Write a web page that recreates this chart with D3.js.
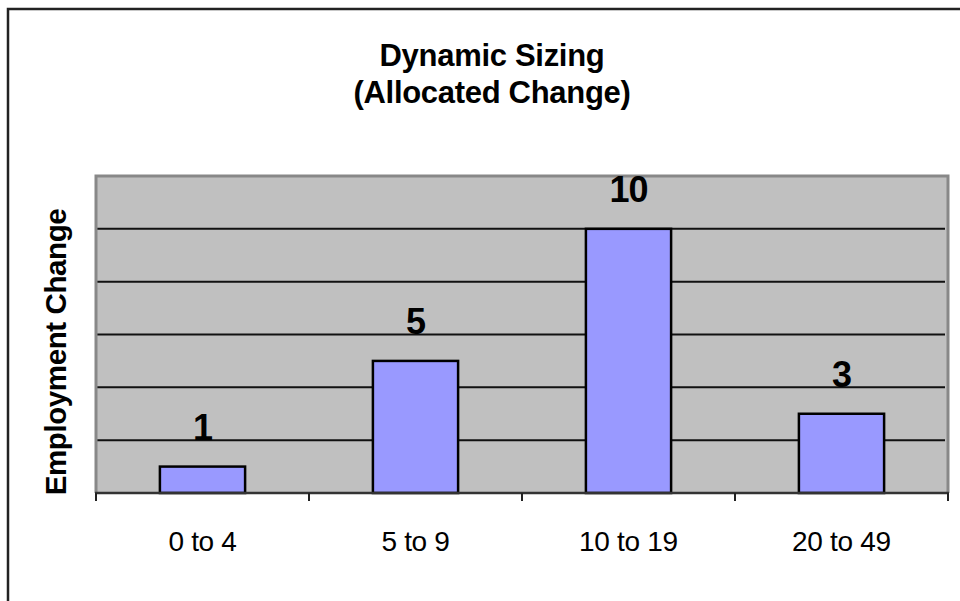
<!DOCTYPE html>
<html>
<head>
<meta charset="utf-8">
<script src="https://cdn.jsdelivr.net/npm/d3@7"></script>
<style>
  html, body { margin: 0; padding: 0; background: #fff; }
  svg { display: block; }
  text { font-family: Arial, "Liberation Sans", sans-serif; fill: #000; }
</style>
</head>
<body>
<svg id="chart" width="960" height="601"></svg>
<script>
// Employment change allocated to each firm-size class
const categories = ["0 to 4", "5 to 9", "10 to 19", "20 to 49"];
const values = [1, 5, 10, 3];
const gridValues = [2, 4, 6, 8, 10];
const titleLines = ["Dynamic Sizing", "(Allocated Change)"];
const yTitle = "Employment Change";

const svg = d3.select("#chart");
const plot = { left: 96, right: 948, top: 176, bottom: 493 };

// outer chart frame (extends past the right and bottom edges)
svg.append("rect")
  .attr("x", 8).attr("y", 9)
  .attr("width", 1000).attr("height", 1000)
  .attr("fill", "#fff")
  .attr("stroke", "#222").attr("stroke-width", 2.5);

const x = d3.scaleBand()
  .domain(categories)
  .range([plot.left, plot.right])
  .paddingInner(0.6)
  .paddingOuter(0.3);

const xEdge = d3.scaleLinear()
  .domain([0, categories.length])
  .range([plot.left, plot.right]);

const y = d3.scaleLinear()
  .domain([0, 12])
  .range([plot.bottom, plot.top]);

// plot area background
svg.append("rect")
  .attr("x", plot.left).attr("y", plot.top)
  .attr("width", plot.right - plot.left)
  .attr("height", plot.bottom - plot.top)
  .attr("fill", "#c0c0c0");

// horizontal gridlines
svg.append("g")
  .selectAll("line")
  .data(gridValues)
  .join("line")
  .attr("x1", plot.left).attr("x2", plot.right - 3)
  .attr("y1", d => y(d)).attr("y2", d => y(d))
  .attr("stroke", "#111").attr("stroke-width", 2);

// plot area border (top / right / left)
svg.append("path")
  .attr("d", `M${plot.left},${plot.bottom} V${plot.top} H${plot.right} V${plot.bottom}`)
  .attr("fill", "none")
  .attr("stroke", "#888").attr("stroke-width", 3);

// bars
svg.append("g")
  .selectAll("rect")
  .data(values)
  .join("rect")
  .attr("x", (d, i) => x(categories[i]))
  .attr("y", d => y(d))
  .attr("width", x.bandwidth())
  .attr("height", d => y(0) - y(d))
  .attr("fill", "#9999ff")
  .attr("stroke", "#000").attr("stroke-width", 2.5);

// value labels
svg.append("g")
  .selectAll("text")
  .data(values)
  .join("text")
  .attr("x", (d, i) => x(categories[i]) + x.bandwidth() / 2)
  .attr("y", d => y(d) - 27)
  .attr("text-anchor", "middle")
  .attr("font-size", 36)
  .attr("font-weight", "bold")
  .attr("letter-spacing", -1)
  .text(d => d);

// category axis: baseline, boundary ticks and labels
const axisG = svg.append("g").attr("transform", `translate(0,${plot.bottom})`);
axisG.append("line")
  .attr("x1", plot.left - 1).attr("x2", plot.right + 1)
  .attr("y1", 0).attr("y2", 0)
  .attr("stroke", "#333").attr("stroke-width", 2.5);
axisG.selectAll("line.tick")
  .data(d3.range(categories.length + 1))
  .join("line")
  .attr("class", "tick")
  .attr("x1", d => xEdge(d)).attr("x2", d => xEdge(d))
  .attr("y1", 0).attr("y2", 8)
  .attr("stroke", "#222").attr("stroke-width", 2);

const labelAxis = d3.axisBottom(x).tickSize(0).tickPadding(0);
const labels = svg.append("g")
  .attr("transform", `translate(0,${plot.bottom})`)
  .call(labelAxis);
labels.select(".domain").remove();
labels.selectAll("text")
  .attr("y", 58)
  .attr("dy", 0)
  .attr("font-size", 28)
  .attr("letter-spacing", -0.3)
  .style("font-family", "Arial, 'Liberation Sans', sans-serif")
  .attr("fill", "#000");

// title
svg.append("g")
  .selectAll("text")
  .data(titleLines)
  .join("text")
  .attr("x", 492)
  .attr("y", (d, i) => 66 + i * 37)
  .attr("text-anchor", "middle")
  .attr("font-size", 31)
  .attr("font-weight", "bold")
  .attr("letter-spacing", -0.3)
  .text(d => d);

// y-axis title
svg.append("text")
  .attr("transform", "translate(66,352) rotate(-90)")
  .attr("text-anchor", "middle")
  .attr("font-size", 29.5)
  .attr("font-weight", "bold")
  .attr("letter-spacing", -0.4)
  .text(yTitle);
</script>
</body>
</html>
